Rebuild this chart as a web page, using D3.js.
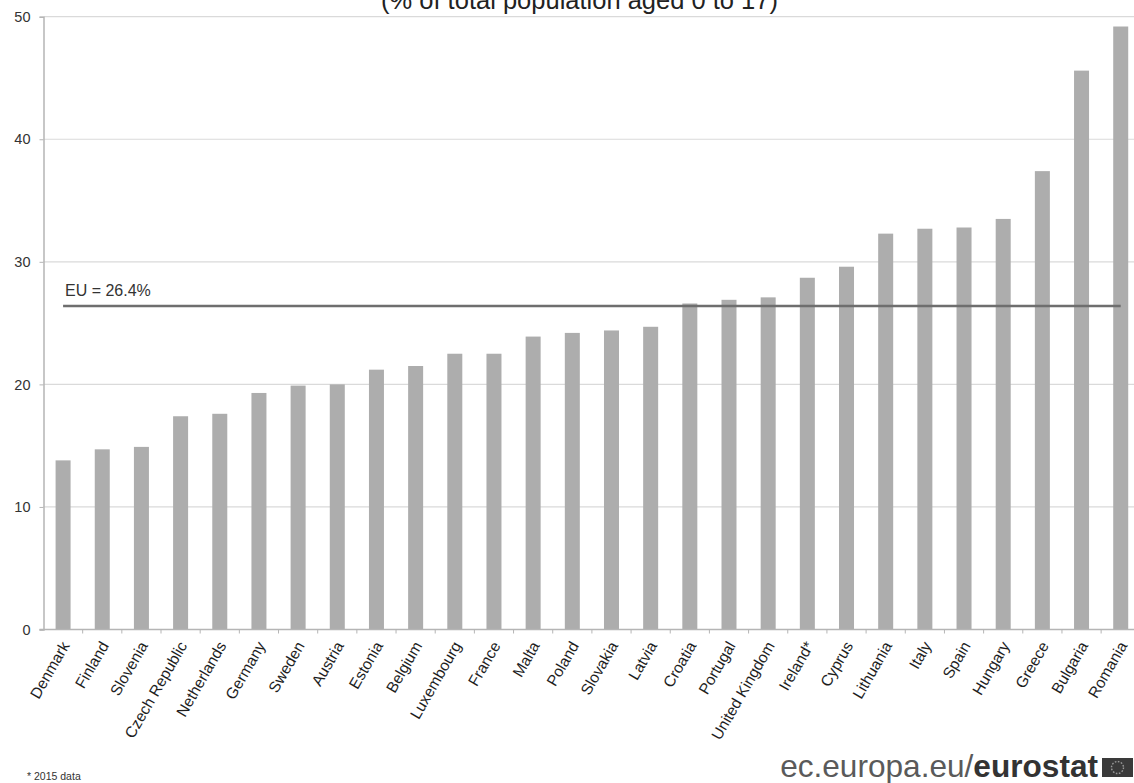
<!DOCTYPE html>
<html>
<head>
<meta charset="utf-8">
<script src="https://cdn.jsdelivr.net/npm/d3@7"></script>
<style>
  html, body { margin: 0; padding: 0; background: #fff; }
  svg { display: block; font-family: "Liberation Sans", Arial, sans-serif; }
</style>
</head>
<body>
<svg id="chart" width="1134" height="783"></svg>
<script>
// ---- data ----
const countries = ["Denmark","Finland","Slovenia","Czech Republic","Netherlands","Germany","Sweden","Austria","Estonia","Belgium","Luxembourg","France","Malta","Poland","Slovakia","Latvia","Croatia","Portugal","United Kingdom","Ireland*","Cyprus","Lithuania","Italy","Spain","Hungary","Greece","Bulgaria","Romania"];
const values = [13.8,14.7,14.9,17.4,17.6,19.3,19.9,20.0,21.2,21.5,22.5,22.5,23.9,24.2,24.4,24.7,26.6,26.9,27.1,28.7,29.6,32.3,32.7,32.8,33.5,37.4,45.6,49.2];
const yTicks = [0,10,20,30,40,50];
const euValue = 26.4;
const euLabel = "EU = 26.4%";
const titleText = "(% of total population aged 0 to 17)";
const footnote = "* 2015 data";
const logoLight = "ec.europa.eu/";
const logoBold = "eurostat";

// ---- layout ----
const W = 1134, H = 783;
const left = 43.5, plotRight = 1140.3, gridRight = 1134;
const yTop = 16.7, yBottom = 629.5;

const svg = d3.select("#chart");

const y = d3.scaleLinear().domain([0, 50]).range([yBottom, yTop]);
const xCell = d3.scaleBand().domain(countries).range([left, plotRight]).padding(0);
const x = d3.scaleBand().domain(countries).range([left, plotRight])
  .paddingInner(0.617).paddingOuter(0.3085);

// title (cropped at top, as in the source image)
const title = svg.append("text")
  .attr("x", 579.5).attr("y", 8.5)
  .attr("text-anchor", "middle")
  .attr("font-size", 24)
  .attr("fill", "#222")
  .text(titleText);
const tw = title.node().getComputedTextLength();
title.attr("font-size", 24 * 397 / tw);

// gridlines
svg.append("g").selectAll("line")
  .data(yTicks.filter(d => d > 0))
  .join("line")
  .attr("x1", left).attr("x2", gridRight)
  .attr("y1", d => y(d)).attr("y2", d => y(d))
  .attr("stroke", "#dadada").attr("stroke-width", 1.2);

// bars
svg.append("g").selectAll("rect")
  .data(countries.map((c, i) => ({c, v: values[i]})))
  .join("rect")
  .attr("x", d => x(d.c))
  .attr("width", x.bandwidth())
  .attr("y", d => y(d.v))
  .attr("height", d => y(0) - y(d.v))
  .attr("fill", "#adadad");

// y axis
const yAxis = svg.append("g")
  .attr("transform", `translate(${left},0)`)
  .call(d3.axisLeft(y).tickValues(yTicks).tickSize(4).tickPadding(9).tickFormat(d3.format("d")));
yAxis.select(".domain").attr("stroke", "#b5b5b5").attr("stroke-width", 1.5);
yAxis.selectAll(".tick line").attr("stroke", "#b5b5b5");
yAxis.selectAll(".tick text")
  .attr("font-size", 14.5).attr("fill", "#333")
  .attr("font-family", "Liberation Sans, Arial, sans-serif");

// x axis line
svg.append("line")
  .attr("x1", left - 4).attr("x2", gridRight)
  .attr("y1", y(0)).attr("y2", y(0))
  .attr("stroke", "#b5b5b5").attr("stroke-width", 1.5);

// x ticks at cell boundaries
svg.append("g").selectAll("line")
  .data(countries.slice(1))
  .join("line")
  .attr("x1", d => xCell(d)).attr("x2", d => xCell(d))
  .attr("y1", y(0)).attr("y2", y(0) + 4)
  .attr("stroke", "#b5b5b5");

// x labels
svg.append("g").selectAll("text")
  .data(countries)
  .join("text")
  .attr("transform", d => `translate(${x(d) + x.bandwidth() / 2 + 7},${y(0) + 16}) rotate(-60)`)
  .attr("text-anchor", "end")
  .attr("font-size", 15.5)
  .attr("fill", "#1e1e1e")
  .text(d => d);

// EU line
svg.append("line")
  .attr("x1", x(countries[0]) + x.bandwidth() / 2)
  .attr("x2", x(countries[countries.length - 1]) + x.bandwidth() / 2)
  .attr("y1", y(euValue)).attr("y2", y(euValue))
  .attr("stroke", "#6e6e6e").attr("stroke-width", 2.5);
svg.append("text")
  .attr("x", 65).attr("y", y(euValue) - 10)
  .attr("font-size", 16)
  .attr("fill", "#333")
  .text(euLabel);

// footnote
svg.append("text")
  .attr("x", 27).attr("y", 780)
  .attr("font-size", 10.5)
  .attr("fill", "#333")
  .text(footnote);

// logo
const logo = svg.append("text")
  .attr("x", 1098).attr("y", 777)
  .attr("text-anchor", "end")
  .attr("font-size", 27);
logo.append("tspan").attr("fill", "#5a5a5a").text(logoLight);
logo.append("tspan").attr("fill", "#333").attr("font-weight", "bold").text(logoBold);
// fit width to ~318px
const lw = logo.node().getComputedTextLength();
logo.attr("font-size", 27 * 318 / lw);

const box = svg.append("g");
box.append("rect").attr("x", 1102).attr("y", 758).attr("width", 31).attr("height", 19).attr("fill", "#3a3a3a");
box.append("circle").attr("cx", 1117.5).attr("cy", 767.5).attr("r", 6)
  .attr("fill", "none").attr("stroke", "#9a9a9a").attr("stroke-width", 1.4).attr("stroke-dasharray", "1.6 1.5");
</script>
</body>
</html>
